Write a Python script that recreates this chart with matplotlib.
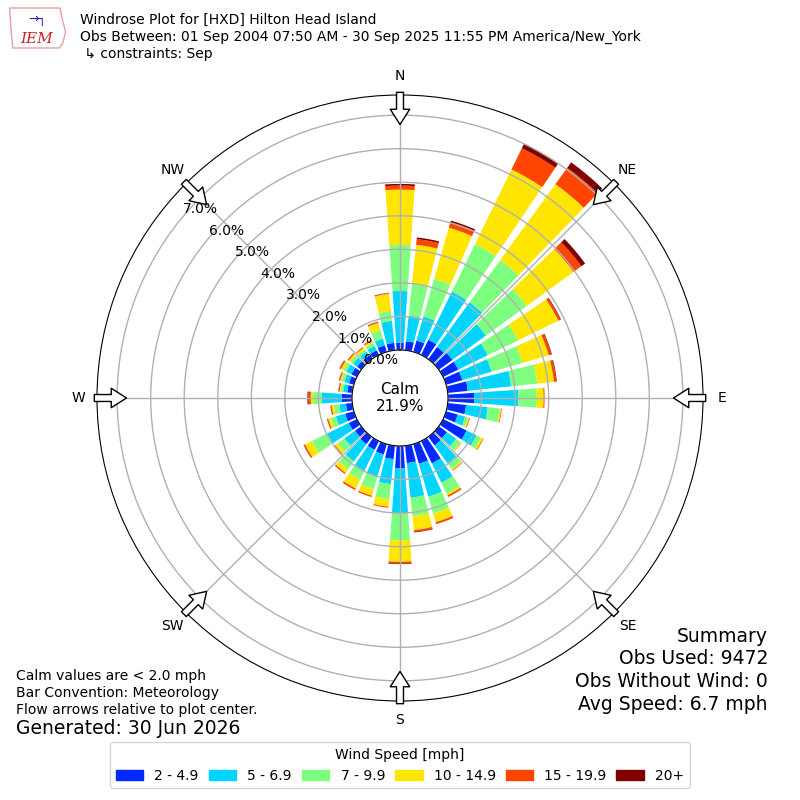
import matplotlib
matplotlib.use("Agg")
import matplotlib.pyplot as plt
from matplotlib.patches import Polygon, Patch
import numpy as np

# direction bins (deg, meteorological) and % frequency per speed class
directions = np.arange(0, 360, 10)
speed_labels = ["2 - 4.9", "5 - 6.9", "7 - 9.9", "10 - 14.9", "15 - 19.9", "20+"]
speed_colors = ["#0028ff", "#00d4ff", "#7fff7f", "#ffe600", "#ff4500", "#800000"]

spd_2_5 = [0.22, 0.27, 0.35, 0.50, 0.45, 0.50, 0.50, 0.50, 0.60, 0.78, 0.55, 0.36,
           0.78, 0.30, 0.32, 0.74, 0.61, 0.52, 0.67, 0.40, 0.32, 0.29, 0.27, 0.23,
           0.27, 0.27, 0.19, 0.31, 0.15, 0.15, 0.18, 0.15, 0.14, 0.15, 0.20, 0.22]
spd_5_7 = [1.54, 0.77, 0.75, 1.60, 1.65, 1.24, 0.98, 0.91, 1.30, 1.32, 0.65, 0.23,
           0.33, 0.34, 0.66, 0.64, 1.02, 1.04, 1.34, 0.75, 0.71, 0.69, 0.64, 0.39,
           0.71, 0.29, 0.20, 0.59, 0.12, 0.15, 0.17, 0.15, 0.14, 0.15, 0.21, 0.66]
spd_7_10 = [1.37, 0.97, 1.16, 1.57, 1.55, 1.50, 1.00, 0.96, 0.78, 0.55, 0.36, 0.09,
            0.14, 0.16, 0.21, 0.36, 0.52, 0.55, 0.80, 0.45, 0.36, 0.29, 0.28, 0.25,
            0.51, 0.16, 0.16, 0.26, 0.07, 0.08, 0.10, 0.10, 0.08, 0.10, 0.26, 0.30]
spd_10_15 = [1.65, 1.15, 1.59, 2.48, 2.80, 1.72, 1.34, 0.81, 0.50, 0.20, 0.04, 0.04,
             0.07, 0.03, 0.04, 0.06, 0.27, 0.42, 0.64, 0.23, 0.21, 0.30, 0.14, 0.09,
             0.23, 0.08, 0.07, 0.07, 0.04, 0.05, 0.08, 0.06, 0.06, 0.06, 0.23, 0.51]
spd_15_20 = [0.12, 0.17, 0.17, 0.70, 0.60, 0.29, 0.07, 0.08, 0.07, 0.03, 0.02, 0.02,
             0.02, 0.01, 0.02, 0.05, 0.06, 0.05, 0.05, 0.03, 0.04, 0.05, 0.04, 0.03,
             0.05, 0.04, 0.04, 0.07, 0.03, 0.03, 0.04, 0.04, 0.03, 0.04, 0.03, 0.02]
spd_20p = [0.05, 0.05, 0.05, 0.15, 0.20, 0.14, 0.02, 0.02, 0.02, 0.00, 0.00, 0.00,
           0.00, 0.00, 0.00, 0.00, 0.00, 0.02, 0.02, 0.00, 0.00, 0.00, 0.00, 0.00,
           0.00, 0.00, 0.00, 0.03, 0.01, 0.01, 0.01, 0.00, 0.00, 0.00, 0.01, 0.01]

calm_pct = 21.9
r_ticks = [0, 1, 2, 3, 4, 5, 6, 7]
compass = ["N", "NE", "E", "SE", "S", "SW", "W", "NW"]
summary = ["Summary", "Obs Used: 9472", "Obs Without Wind: 0", "Avg Speed: 6.7 mph"]

fig = plt.figure(figsize=(8, 8), dpi=100)
ax = fig.add_axes([0.12125, 0.12375, 0.7575, 0.7575], projection="polar")
ax.set_theta_zero_location("N")
ax.set_theta_direction(-1)

theta = np.deg2rad(directions)
width = np.deg2rad(8)
bottom = np.zeros(len(directions))
for vals, color in zip([spd_2_5, spd_5_7, spd_7_10, spd_10_15, spd_15_20, spd_20p],
                       speed_colors):
    vals = np.asarray(vals)
    ax.bar(theta, vals, width=width, bottom=bottom, color=color, linewidth=0)
    bottom = bottom + vals

ax.set_rorigin(-1.43)
ax.set_ylim(0, 7.6)
ax.set_yticks(r_ticks)
ax.set_yticklabels([])
ax.grid(True, color="#b0b0b0", linewidth=1)

ax.set_xticks(np.deg2rad(np.arange(0, 360, 45)))
ax.set_xticklabels(compass, fontsize=10)
ax.tick_params(axis="x", pad=3)

# flow arrows at the rim, pointing toward the centre
for ang in np.arange(0, 360, 45):
    t = np.deg2rad(ang)
    ax.annotate("", xy=(t, 6.72), xytext=(t, 7.68), xycoords="data",
                annotation_clip=False,
                arrowprops=dict(arrowstyle="simple,head_length=0.55,head_width=0.7,tail_width=0.25",
                                fc="white", ec="k", lw=1, shrinkA=0, shrinkB=0,
                                mutation_scale=20))

for v in r_ticks:
    ax.text(np.deg2rad(310), v, "%.1f%%" % v, ha="left", va="bottom",
            fontsize=10, zorder=6)

ax.text(0.5, 0.5, "Calm\n%.1f%%" % calm_pct, transform=ax.transAxes,
        ha="center", va="center", fontsize=11)

# header
fig.text(0.1, 0.975, "Windrose Plot for [HXD] Hilton Head Island", fontsize=10, va="center")
fig.text(0.1, 0.954, "Obs Between: 01 Sep 2004 07:50 AM - 30 Sep 2025 11:55 PM America/New_York",
         fontsize=10, va="center")
fig.text(0.1, 0.933, " \u21b3 constraints: Sep", fontsize=10, va="center")

# rough IEM logo
iowa = Polygon([[0.012, 0.99], [0.075, 0.99], [0.078, 0.975], [0.082, 0.96],
                [0.078, 0.945], [0.074, 0.94], [0.016, 0.94], [0.014, 0.96]],
               closed=True, transform=fig.transFigure, fc="none", ec="#e8a0a0", lw=1)
fig.patches.append(iowa)
fig.text(0.046, 0.951, "IEM", color="#cc2222", fontsize=11, style="italic",
         family="DejaVu Serif", ha="center", va="center")
fig.text(0.046, 0.976, "\u2192\u2510", color="#2222aa", fontsize=9, ha="center", va="center")

# footer notes
fig.text(0.02, 0.155, "Calm values are < 2.0 mph", fontsize=10, va="center")
fig.text(0.02, 0.134, "Bar Convention: Meteorology", fontsize=10, va="center")
fig.text(0.02, 0.1125, "Flow arrows relative to plot center.", fontsize=10, va="center")
fig.text(0.02, 0.09, "Generated: 30 Jun 2026", fontsize=13.5, va="center")

for i, line in enumerate(summary):
    fig.text(0.96, 0.205 - i * 0.0285, line, fontsize=13.5, ha="right", va="center")

handles = [Patch(color=c, label=l) for c, l in zip(speed_colors, speed_labels)]
fig.legend(handles=handles, loc="lower center", bbox_to_anchor=(0.5, 0.006), ncol=6,
           title="Wind Speed [mph]", fontsize=10, title_fontsize=10,
           handlelength=2.0, handleheight=0.7, columnspacing=0.7, handletextpad=0.8)

fig.savefig("out.png", dpi=100)
